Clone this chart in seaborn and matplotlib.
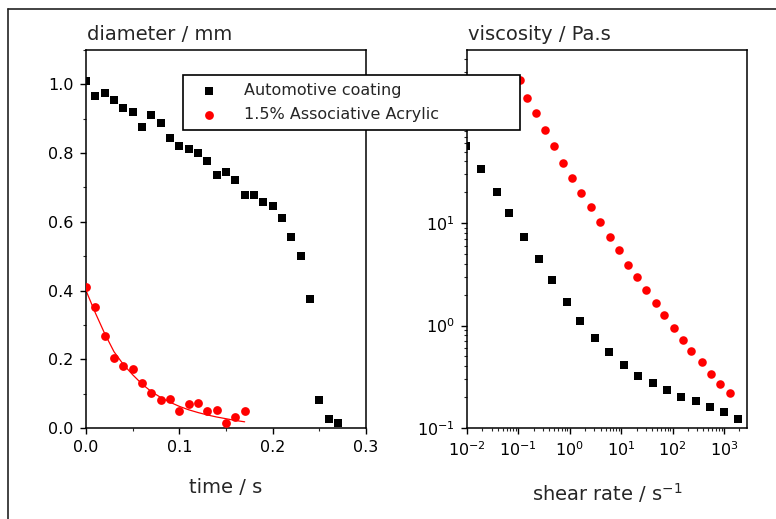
import matplotlib
matplotlib.use("Agg")
import matplotlib.pyplot as plt
from matplotlib.lines import Line2D
from matplotlib.ticker import MultipleLocator, LogLocator, NullFormatter, FixedLocator
import seaborn as sns

# =========================
# DATA
# =========================

# left panel: diameter vs time
t_coating = [0.00, 0.01, 0.02, 0.03, 0.04, 0.05, 0.06, 0.07, 0.08, 0.09,
             0.10, 0.11, 0.12, 0.13, 0.14, 0.15, 0.16, 0.17, 0.18, 0.19,
             0.20, 0.21, 0.22, 0.23, 0.24, 0.25, 0.26, 0.27]
d_coating = [1.009, 0.965, 0.975, 0.955, 0.932, 0.920, 0.876, 0.911, 0.887, 0.845,
             0.821, 0.811, 0.800, 0.777, 0.735, 0.745, 0.723, 0.677, 0.677, 0.658,
             0.646, 0.610, 0.556, 0.500, 0.375, 0.081, 0.025, 0.014]

t_acrylic = [0.00, 0.01, 0.02, 0.03, 0.04, 0.05, 0.06, 0.07, 0.08, 0.09,
             0.10, 0.11, 0.12, 0.13, 0.14, 0.15, 0.16, 0.17]
d_acrylic = [0.411, 0.353, 0.269, 0.203, 0.180, 0.172, 0.132, 0.103, 0.081, 0.083,
             0.050, 0.070, 0.072, 0.050, 0.051, 0.014, 0.033, 0.050]

# fitted curve through the acrylic points
t_fit = [0.00, 0.01, 0.02, 0.03, 0.04, 0.05, 0.06, 0.07, 0.08, 0.09,
         0.10, 0.11, 0.12, 0.13, 0.14, 0.15, 0.16, 0.17]
d_fit = [0.400, 0.335, 0.275, 0.222, 0.185, 0.155, 0.128, 0.106, 0.089, 0.075,
         0.063, 0.053, 0.045, 0.038, 0.032, 0.027, 0.022, 0.018]

# right panel: viscosity vs shear rate
rate_coating = [0.0095, 0.019, 0.038, 0.066, 0.130, 0.251, 0.452, 0.885, 1.58, 3.08,
                5.86, 11.35, 21.6, 41.7, 77.1, 147, 282, 533, 1019, 1905]
visc_coating = [56, 33.6, 20.3, 12.5, 7.4, 4.5, 2.78, 1.71, 1.11, 0.76,
                0.55, 0.41, 0.32, 0.275, 0.235, 0.20, 0.184, 0.16, 0.142, 0.122]

rate_acrylic = [0.107, 0.145, 0.217, 0.324, 0.493, 0.730, 1.11, 1.66, 2.57, 3.96,
                6.03, 9.12, 13.5, 20.4, 30.9, 46.8, 69.2, 105, 158, 234,
                367, 550, 832, 1318]
visc_acrylic = [250, 168, 118, 81, 56, 39, 27.4, 19.8, 14.3, 10.2,
                7.4, 5.45, 3.92, 2.97, 2.22, 1.67, 1.26, 0.95, 0.73, 0.56,
                0.44, 0.34, 0.27, 0.22]

# visible labelled decades on the viscosity axis (10^2 sits under the legend)
visc_ticks = [0.1, 1, 10]
visc_ticklabels = ["$10^{-1}$", "$10^{0}$", "$10^{1}$"]

labels = ["Automotive coating", "1.5% Associative Acrylic"]

# =========================
# STYLE
# =========================

sns.set_style("ticks")
plt.rcParams["font.family"] = ["DejaVu Sans"]
plt.rcParams["mathtext.default"] = "regular"
plt.rcParams["axes.edgecolor"] = "black"

fig = plt.figure(figsize=(7.76, 5.19), dpi=100)
W, H = 776, 519

def px_axes(x0, y0, x1, y1):
    return fig.add_axes([x0 / W, 1 - y1 / H, (x1 - x0) / W, (y1 - y0) / H])

ax1 = px_axes(86, 50, 366, 428)
ax2 = px_axes(467, 50, 747, 428)

# =========================
# LEFT PANEL
# =========================

sns.lineplot(x=t_fit, y=d_fit, ax=ax1, color="red", linewidth=0.9, zorder=2)
sns.scatterplot(x=t_coating, y=d_coating, ax=ax1, marker="s", color="black",
                s=36, linewidth=0, label=labels[0], zorder=3)
sns.scatterplot(x=t_acrylic, y=d_acrylic, ax=ax1, marker="o", color="red",
                s=40, linewidth=0, label=labels[1], zorder=3)

ax1.set_xlim(0, 0.3)
ax1.set_ylim(0, 1.1)
ax1.xaxis.set_major_locator(MultipleLocator(0.1))
ax1.xaxis.set_minor_locator(MultipleLocator(0.05))
ax1.yaxis.set_major_locator(MultipleLocator(0.2))
ax1.yaxis.set_minor_locator(MultipleLocator(0.1))
ax1.xaxis.set_major_formatter(plt.FuncFormatter(lambda v, p: f"{v:.1f}"))
ax1.yaxis.set_major_formatter(plt.FuncFormatter(lambda v, p: f"{v:.1f}"))
ax1.set_xlabel("time / s", fontsize=14)
ax1.set_ylabel("")
ax1.text(0.005, 1.026, "diameter / mm", transform=ax1.transAxes,
         fontsize=14, va="baseline", ha="left")

# =========================
# RIGHT PANEL
# =========================

sns.scatterplot(x=rate_coating, y=visc_coating, ax=ax2, marker="s", color="black",
                s=36, linewidth=0, zorder=3)
sns.scatterplot(x=rate_acrylic, y=visc_acrylic, ax=ax2, marker="o", color="red",
                s=38, linewidth=0, zorder=3)

ax2.set_xscale("log")
ax2.set_yscale("log")
ax2.set_xlim(1e-2, 10 ** 3.45)
ax2.set_ylim(1e-1, 10 ** 2.69)
ax2.xaxis.set_major_locator(LogLocator(base=10, numticks=10))
ax2.xaxis.set_minor_locator(LogLocator(base=10, subs=range(2, 10), numticks=20))
ax2.yaxis.set_major_locator(FixedLocator(visc_ticks))
ax2.set_yticklabels(visc_ticklabels)
ax2.yaxis.set_minor_locator(LogLocator(base=10, subs=range(2, 10), numticks=20))
ax2.xaxis.set_minor_formatter(NullFormatter())
ax2.yaxis.set_minor_formatter(NullFormatter())
ax2.set_xlabel("shear rate / s$^{-1}$", fontsize=14)
ax2.set_ylabel("")
ax2.text(0.005, 1.026, "viscosity / Pa.s", transform=ax2.transAxes,
         fontsize=14, va="baseline", ha="left")

for ax in (ax1, ax2):
    for sp in ax.spines.values():
        sp.set_visible(True)
        sp.set_linewidth(1.1)
    ax.tick_params(which="major", direction="out", length=4, width=1,
                   labelsize=11.5, colors="black", pad=5)
    ax.tick_params(which="minor", direction="out", length=2.5, width=0.8)
    ax.tick_params(axis="y", which="major", pad=5)
    ax.tick_params(top=False, right=False, which="both")
    if ax.get_legend() is not None:
        ax.get_legend().remove()

ax1.xaxis.set_label_coords(0.5, -0.133)
ax2.xaxis.set_label_coords(0.5, -0.14)

# =========================
# LEGEND + OUTER FRAME
# =========================

handles, _ = ax1.get_legend_handles_labels()
handles = [h for h in handles if h.get_label() in labels]
leg = fig.legend(handles, labels, loc="upper left",
                 bbox_to_anchor=(183 / W, 1 - 135 / H, (520 - 183) / W, 60 / H),
                 mode="expand", fontsize=11.5, frameon=True, fancybox=False,
                 edgecolor="black", framealpha=1, borderpad=0.5,
                 labelspacing=0.55, handlelength=2.3, handletextpad=1.0,
                 borderaxespad=0)
leg.get_frame().set_linewidth(1.2)

fig.add_artist(Line2D([8 / W, 1.0], [1 - 9 / H, 1 - 9 / H], color="#222222", linewidth=1.2))
fig.add_artist(Line2D([8 / W, 8 / W], [0.0, 1 - 9 / H], color="#222222", linewidth=1.2))

fig.savefig("out.png", dpi=100)
